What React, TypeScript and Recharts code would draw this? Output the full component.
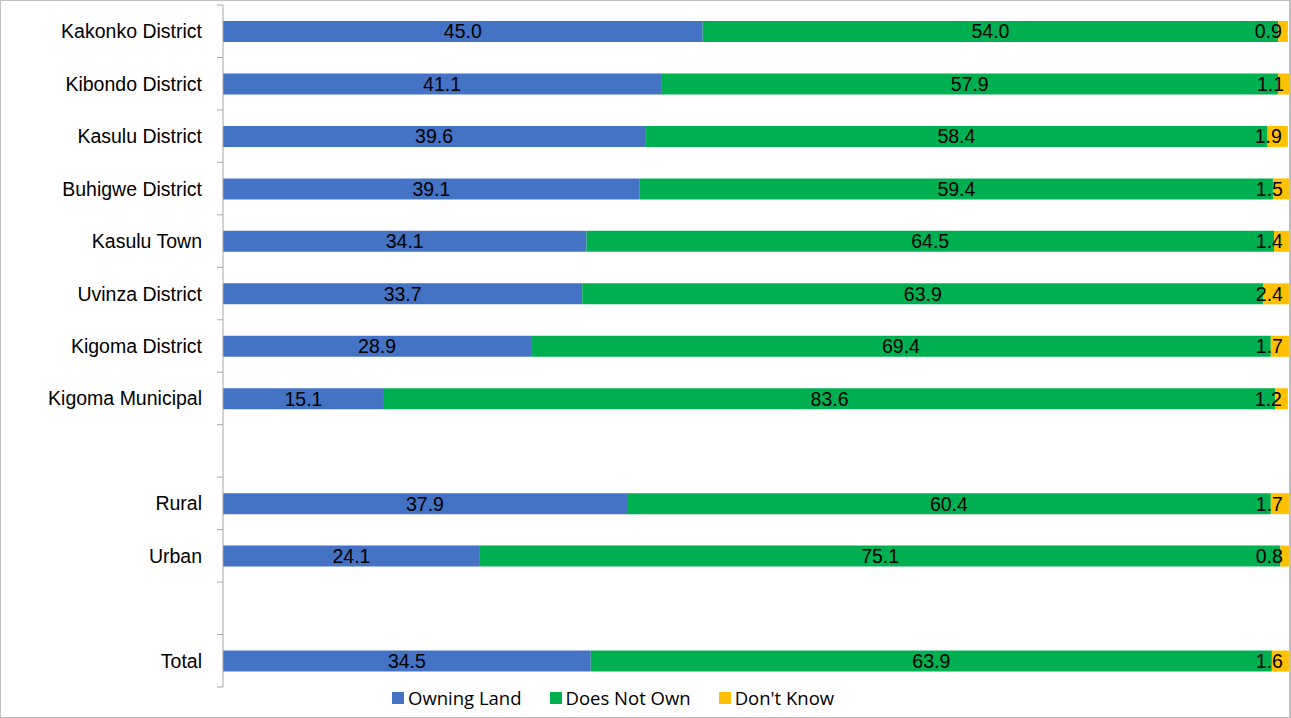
import { BarChart, Bar, XAxis, YAxis, LabelList } from "recharts";

const categories = [
  "Kakonko District",
  "Kibondo District",
  "Kasulu District",
  "Buhigwe District",
  "Kasulu Town",
  "Uvinza District",
  "Kigoma District",
  "Kigoma Municipal",
  " ",
  "Rural",
  "Urban",
  "  ",
  "Total",
];

const owningLand = [45.0, 41.1, 39.6, 39.1, 34.1, 33.7, 28.9, 15.1, null, 37.9, 24.1, null, 34.5];
const doesNotOwn = [54.0, 57.9, 58.4, 59.4, 64.5, 63.9, 69.4, 83.6, null, 60.4, 75.1, null, 63.9];
const dontKnow = [0.9, 1.1, 1.9, 1.5, 1.4, 2.4, 1.7, 1.2, null, 1.7, 0.8, null, 1.6];

const data = categories.map((name, i) => ({
  name,
  own: owningLand[i],
  notOwn: doesNotOwn[i],
  dk: dontKnow[i],
}));

const W = 1291;
const H = 718;
const MARGIN = { top: 5, right: 1, bottom: 31, left: 1 };
const AXIS_W = 222;
const BAND = (H - MARGIN.top - MARGIN.bottom) / categories.length;
const FONT = "'Liberation Sans', Arial, sans-serif";
const TICK_X = MARGIN.left + AXIS_W;

const fmt = (v: unknown) => (v == null || v === "" ? "" : Number(v).toFixed(1));

function CategoryTick(props: any) {
  const { y, payload, index } = props;
  const last = index === categories.length - 1;
  return (
    <g>
      <line x1={TICK_X - 6} x2={TICK_X} y1={y - BAND / 2} y2={y - BAND / 2} stroke="#a6a6a6" />
      {last && <line x1={TICK_X - 6} x2={TICK_X} y1={y + BAND / 2} y2={y + BAND / 2} stroke="#a6a6a6" />}
      <text x={TICK_X - 21} y={y} dy={7} textAnchor="end" fill="#000" fontSize={19.5} fontFamily={FONT}>
        {payload.value.trim()}
      </text>
    </g>
  );
}

const legendItems = [
  { label: "Owning Land", color: "#4472C4" },
  { label: "Does Not Own", color: "#00B050" },
  { label: "Don't Know", color: "#FFC000" },
];

export default function App() {
  return (
    <div
      style={{
        position: "absolute",
        left: 0,
        top: 0,
        width: W,
        height: H,
        background: "#fff",
        boxSizing: "border-box",
        border: "1px solid #bfbfbf",
        borderRight: "2px solid #bfbfbf",
      }}
    >
      <div style={{ position: "absolute", left: -1, top: -1 }}>
        <BarChart width={W} height={H} data={data} layout="vertical" margin={MARGIN} barSize={21}>
          <XAxis type="number" domain={[0, 100]} hide />
          <YAxis
            type="category"
            dataKey="name"
            width={AXIS_W}
            interval={0}
            axisLine={{ stroke: "#a6a6a6" }}
            tickLine={false}
            tick={<CategoryTick />}
          />
          <Bar dataKey="own" stackId="a" fill="#4472C4" isAnimationActive={false}>
            <LabelList dataKey="own" position="center" formatter={fmt} fill="#000" fontSize={19.5} fontFamily={FONT} />
          </Bar>
          <Bar dataKey="notOwn" stackId="a" fill="#00B050" isAnimationActive={false}>
            <LabelList dataKey="notOwn" position="center" formatter={fmt} fill="#000" fontSize={19.5} fontFamily={FONT} />
          </Bar>
          <Bar dataKey="dk" stackId="a" fill="#FFC000" isAnimationActive={false}>
            <LabelList dataKey="dk" position="insideRight" offset={6} formatter={fmt} fill="#000" fontSize={19.5} fontFamily={FONT} />
          </Bar>
        </BarChart>
      </div>
      <div
        style={{
          position: "absolute",
          left: 391,
          top: 684,
          display: "flex",
          alignItems: "center",
          fontFamily: "'Open Sans', 'Noto Sans', sans-serif",
          fontSize: 18.5,
          color: "#000",
        }}
      >
        {legendItems.map((it) => (
          <div key={it.label} style={{ display: "flex", alignItems: "center", marginRight: 28 }}>
            <span style={{ width: 12, height: 12, background: it.color, marginRight: 4, display: "inline-block" }} />
            <span>{it.label}</span>
          </div>
        ))}
      </div>
    </div>
  );
}
